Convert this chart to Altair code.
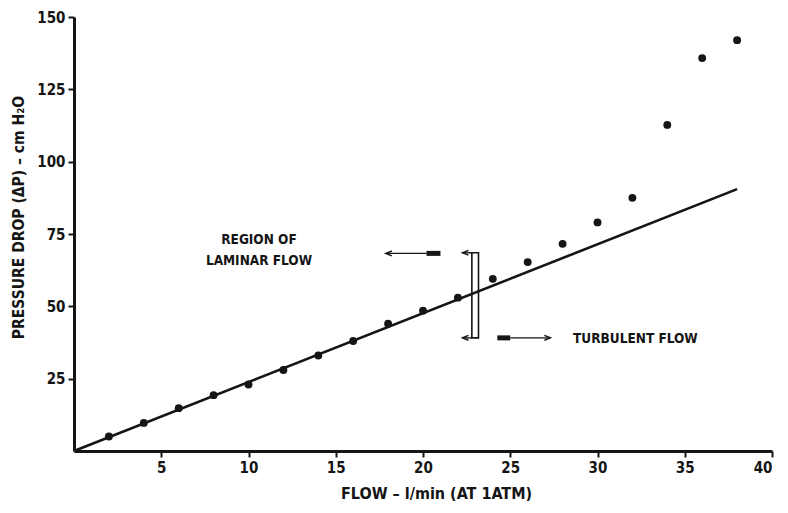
import altair as alt
import pandas as pd

# ---- data ----
flow = [2, 4, 6, 8, 10, 12, 14, 16, 18, 20, 22, 24, 26, 28, 30, 32, 34, 36, 38]
pressure_drop = [5, 9.7, 14.8, 19.3, 23, 28, 33, 38, 44, 48.5, 53, 59.5, 65.3, 71.6, 79, 87.5, 112.7, 135.8, 142]

fit_flow = [0, 38]
fit_dp = [0, 90.5]

x_ticks = [5, 10, 15, 20, 25, 30, 35, 40]
y_ticks = [25, 50, 75, 100, 125, 150]

# annotation geometry (data units)
arrow_shafts = pd.DataFrame({"x": [17.87, 25.0, 22.26, 22.26], "x2": [20.2, 27.3, 22.8, 22.8],
                             "y": [68.3, 39.1, 68.5, 39.1]})
feathers = pd.DataFrame({"x": [20.2, 24.26], "x2": [21.0, 25.0], "y": [68.3, 39.1]})
heads_left = pd.DataFrame({"x": [17.87, 22.26, 22.26], "y": [68.3, 68.5, 39.1]})
heads_right = pd.DataFrame({"x": [27.3], "y": [39.1]})
box = pd.DataFrame({"x": [22.8], "x2": [23.18], "y": [39.1], "y2": [68.5]})
labels_center = pd.DataFrame({"x": [10.6, 10.6], "y": [72.8, 65.8], "t": ["REGION OF", "LAMINAR FLOW"]})
labels_left = pd.DataFrame({"x": [28.6], "y": [38.6], "t": ["TURBULENT FLOW"]})

INK = "#151515"
FONT = "DejaVu Sans Condensed, sans-serif"

xs = alt.Scale(domain=[0, 40], nice=False, zero=False)
ys = alt.Scale(domain=[0, 150], nice=False, zero=False)

pts_df = pd.DataFrame({"flow": flow, "dp": pressure_drop})
fit_df = pd.DataFrame({"flow": fit_flow, "dp": fit_dp})

xaxis = alt.Axis(values=x_ticks, title="FLOW – l/min (AT 1ATM)", grid=False, titleFontSize=16,
                 titleX=362, titleY=42, titleBaseline="middle", titleAlign="center")
yaxis = alt.Axis(values=y_ticks, title="PRESSURE DROP (ΔP) – cm H₂O", grid=False, titleFontSize=15.5,
                 titleX=-56, titleY=200, titleAngle=-90, titleBaseline="middle", titleAlign="center")

fit = alt.Chart(fit_df).mark_line(color=INK, strokeWidth=2.6).encode(
    x=alt.X("flow:Q", scale=xs, axis=xaxis),
    y=alt.Y("dp:Q", scale=ys, axis=yaxis),
)

points = alt.Chart(pts_df).mark_circle(color=INK, opacity=1, size=62).encode(
    x=alt.X("flow:Q", scale=xs), y=alt.Y("dp:Q", scale=ys)
)

shafts = alt.Chart(arrow_shafts).mark_rule(color=INK, strokeWidth=1.4).encode(
    x=alt.X("x:Q", scale=xs), x2="x2:Q", y=alt.Y("y:Q", scale=ys)
)
feath = alt.Chart(feathers).mark_rule(color=INK, strokeWidth=5).encode(
    x=alt.X("x:Q", scale=xs), x2="x2:Q", y=alt.Y("y:Q", scale=ys)
)
hl = alt.Chart(heads_left).mark_point(shape="M2,-0.8L0,0L2,0.8", filled=False, color=INK,
                                      strokeWidth=1.4, size=36, opacity=1).encode(
    x=alt.X("x:Q", scale=xs), y=alt.Y("y:Q", scale=ys)
)
hr = alt.Chart(heads_right).mark_point(shape="M-2,-0.8L0,0L-2,0.8", filled=False, color=INK,
                                       strokeWidth=1.4, size=36, opacity=1).encode(
    x=alt.X("x:Q", scale=xs), y=alt.Y("y:Q", scale=ys)
)
bx = alt.Chart(box).mark_rect(fill="white", fillOpacity=0, stroke=INK, strokeWidth=1.6).encode(
    x=alt.X("x:Q", scale=xs), x2="x2:Q", y=alt.Y("y:Q", scale=ys), y2="y2:Q"
)
t1 = alt.Chart(labels_center).mark_text(font=FONT, fontWeight="bold", fontSize=13.5, color=INK,
                                        align="center", baseline="middle").encode(
    x=alt.X("x:Q", scale=xs), y=alt.Y("y:Q", scale=ys), text="t:N"
)
t2 = alt.Chart(labels_left).mark_text(font=FONT, fontWeight="bold", fontSize=13.5, color=INK,
                                      align="left", baseline="middle").encode(
    x=alt.X("x:Q", scale=xs), y=alt.Y("y:Q", scale=ys), text="t:N"
)

chart = alt.layer(fit, points, shafts, feath, hl, hr, bx, t1, t2).properties(
    width=698, height=434,
    background="white",
    autosize=alt.AutoSizeParams(type="none"),
    padding={"left": 66, "top": 9, "right": 8, "bottom": 50},
).configure_view(stroke=None).configure_axis(
    domainColor=INK, domainWidth=3, tickColor=INK, tickWidth=2, tickSize=6,
    labelFont=FONT, labelFontWeight="bold", labelFontSize=15, labelColor=INK, labelPadding=3,
    titleFont=FONT, titleFontWeight="bold", titleColor=INK,
)

chart.save("out.html", embed_options={"renderer": "svg", "actions": False})
